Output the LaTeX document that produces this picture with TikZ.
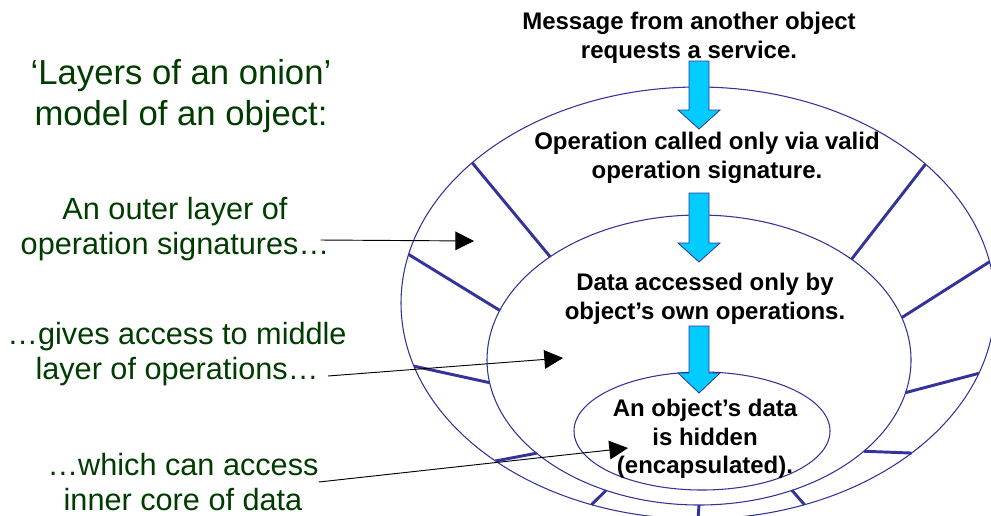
\documentclass[tikz,border=0pt]{standalone}
\usepackage{fontspec}
\setmainfont{Liberation Sans}
\usetikzlibrary{arrows, arrows.meta}
\usetikzlibrary{calc}
\definecolor{ringblue}{RGB}{51,51,153}
\definecolor{flowcyan}{RGB}{0,204,255}
\definecolor{labelgreen}{RGB}{0,60,0}

\begin{document}
\begin{tikzpicture}[x=0.75pt, y=-0.75pt,
    ring/.style={draw=ringblue, line width=0.8pt},
    spoke/.style={draw=ringblue, line width=2.2pt},
    flow/.style={draw=ringblue, line width=0.6pt, fill=flowcyan},
    note/.style={align=center, inner sep=0pt, font=\bfseries\fontsize{18}{21.5}\selectfont},
    side/.style={align=center, inner sep=0pt, text=labelgreen, font=\fontsize{23}{26}\selectfont},
    pointer/.style={line width=0.7pt, -{Triangle[length=14pt, width=14pt]}}]
  \useasboundingbox (0,0) rectangle (991,515);
  \clip (0,0) rectangle (991,515);

  % the three layers of the onion
  \draw[ring] (698,303) ellipse [x radius=297, y radius=216];
  \draw[ring] (699,360) ellipse [x radius=212, y radius=145];
  \draw[ring] (702,431) ellipse [x radius=128, y radius=59];
  \foreach \a/\b in {220.5/225.4, 193/200, 163/171, 133/140, 111/116, 90/90,
                     69/64, 44/39, 19/13, 349/343, 320/316}
    \draw[spoke] ($(698,303)+(\a:297 and 216)$) -- ($(699,360)+(\b:212 and 145)$);

  % message passed inwards
  \foreach \top/\neck/\tip in {61/110/129, 193/243/262, 326/373/393}
    \draw[flow] (689,\top) -- (709,\top) -- (709,\neck) -- (720,\neck) -- (699,\tip)
      -- (678,\neck) -- (689,\neck) -- cycle;

  \node[note] (msg) at (689,38) {Message from another object\\requests a service.};
  \node[note] (sig) at (707,158) {Operation called only via valid\\operation signature.};
  \node[note] (ops) at (705,299) {Data accessed only by\\object’s own operations.};
  \node[note] (core) at (705,439) {An object’s data\\is hidden\\(encapsulated).};

  \node[side, font=\fontsize{26}{31}\selectfont] (title) at (181,96) {‘Layers of an onion’\\model of an object:};
  \node[side] (outerlbl) at (175,229) {An outer layer of\\operation signatures…};
  \node[side] (middlelbl) at (177,354) {…gives access to middle\\layer of operations…};
  \node[side] (corelbl) at (183,482) {…which can access\\inner core of data};

  \coordinate (sigpt) at (474,241);
  \coordinate (opspt) at (563,358);
  \coordinate (corept) at (628,448);
  \draw[pointer] ([shift={(-9,11)}]outerlbl.east) -- (sigpt);
  \draw[pointer] ([shift={(-19,22)}]middlelbl.east) -- (opspt);
  \draw[pointer] (corelbl.east) -- (corept);
\end{tikzpicture}
\end{document}
